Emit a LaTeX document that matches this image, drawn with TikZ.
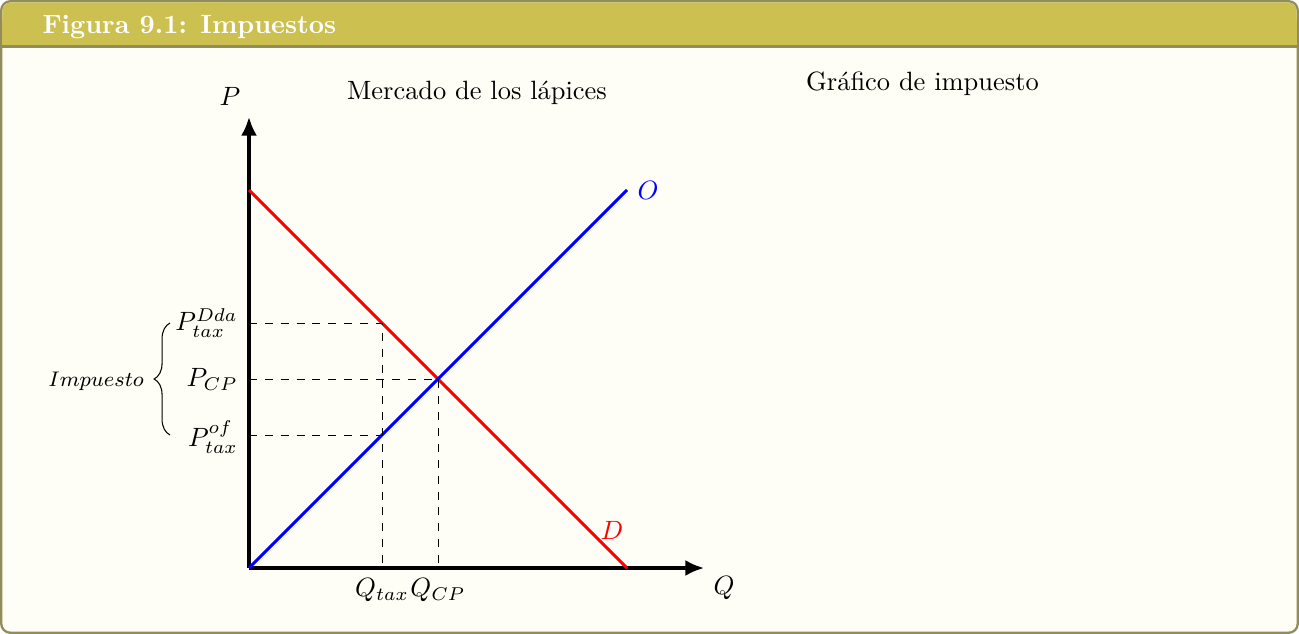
\documentclass[tikz,border=0pt]{standalone}
\usetikzlibrary{decorations.pathreplacing,arrows.meta}
\definecolor{framecol}{RGB}{145,140,90}
\definecolor{titlecol}{RGB}{204,192,80}
\definecolor{backcol}{RGB}{254,254,246}
\tikzset{
  axis/.style={line width=1.15pt,-{Latex[length=7pt,width=6pt]}},
  curveD/.style={red,line width=1.15pt},
  curveO/.style={blue,line width=1.15pt},
  guide/.style={dashed,line width=0.3pt},
  lab/.style={inner sep=1pt},
}
\begin{document}
\begin{tikzpicture}[x=0.378pt,y=-0.378pt]
\useasboundingbox (0,0) rectangle (1299,634);
% frame
\fill[framecol,rounded corners=4pt] (0,0) rectangle (1299,634);
\fill[backcol,rounded corners=3pt] (2.5,2.5) rectangle (1296.5,631.5);
\fill[titlecol,rounded corners=3pt] (2.5,2.5) rectangle (1296.5,46);
\fill[titlecol] (2.5,20) rectangle (1296.5,46);
\fill[framecol] (2.5,45) rectangle (1296.5,48);
\node[anchor=west,text=white,font=\bfseries,inner sep=0pt] (title) at (42,27) {Figura 9.1: Impuestos};

% axes
\coordinate (O) at (249,568);
\coordinate (ytip) at (249,117);
\coordinate (xtip) at (704,568);
\draw[axis] (O) -- (ytip);
\draw[axis] (O) -- (xtip);
\node[lab] (Plab) at (230,96) {$P$};
\node[lab] (Qlab) at (724,588) {$Q$};
\node[lab] (mtitle) at (477,93) {Mercado de los lápices};
\node[lab,anchor=west] (gtitle) at (803,84) {Gráfico de impuesto};

% curves
\coordinate (Dstart) at (249,190);
\coordinate (Dend) at (627,568);
\coordinate (Sstart) at (249,568);
\coordinate (Send) at (627,190);
\draw[curveD] (Dstart) -- (Dend);
\draw[curveO] (Sstart) -- (Send);
\node[lab,text=blue] (Olab) at (648,190) {$O$};
\node[lab,text=red] (Dlab) at (612,530) {$D$};

% guide points
\coordinate (yD) at (249,323);
\coordinate (yC) at (249,379);
\coordinate (yF) at (249,435);
\coordinate (pD) at (382,323);
\coordinate (pF) at (382,435);
\coordinate (pC) at (438,379);
\coordinate (xT) at (382,568);
\coordinate (xC) at (438,568);
\draw[guide] (yD) -- (pD) -- (xT);
\draw[guide] (yF) -- (pF);
\draw[guide] (yC) -- (pC) -- (xC);

% labels
\node[lab,anchor=east] (lPD) at (241,323) {$P_{tax}^{Dda}$};
\node[lab,anchor=east] (lPC) at (241,379) {$P_{CP}$};
\node[lab,anchor=east] (lPF) at (241,437) {$P_{tax}^{of}$};
\node[lab] (lQT) at (382,590) {$Q_{tax}$};
\node[lab] (lQC) at (438,590) {$Q_{CP}$};

% brace
\coordinate (bTop) at (170,323);
\coordinate (bBot) at (170,435);
\draw[line width=0.4pt,decorate,decoration={brace,amplitude=6pt}] (bBot) -- (bTop);
\node[lab,anchor=east,font=\footnotesize] (imp) at (147,381) {$Impuesto$};
\end{tikzpicture}
\end{document}
